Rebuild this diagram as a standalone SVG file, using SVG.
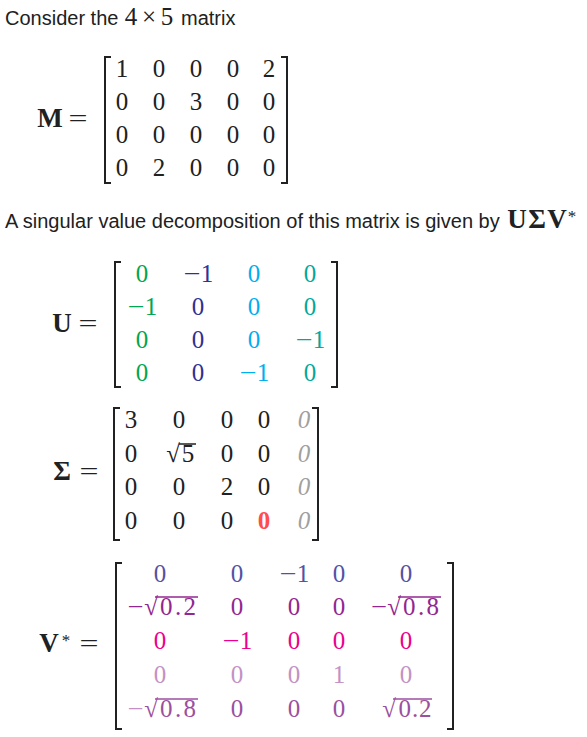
<svg xmlns="http://www.w3.org/2000/svg" width="587" height="737" viewBox="0 0 587 737">
<style>
.t{font-family:'Liberation Sans',Arial,sans-serif;font-size:20px;fill:#202122}
.m{font-family:'Liberation Serif','Times New Roman',serif;font-size:25px;fill:#202122;text-anchor:middle}
.b{font-weight:bold;font-size:27px}
.s{font-size:17px}
.br{fill:none;stroke:#202122;stroke-width:2}
.g{fill:#00a651}.n{fill:#2e3192}.c{fill:#00aeef}.tl{fill:#00a99d}
.r1{fill:#5451a4}.r2{fill:#92278f}.r3{fill:#ec008c}.r4{fill:#c391c4}.r5{fill:#9b509e}
.gr{fill:#a0a0a0;font-style:italic}.red{fill:#ff4d4d;font-weight:bold}
.bar2{stroke:#92278f;stroke-width:1.5}.bar5{stroke:#9b509e;stroke-width:1.5}.barb{stroke:#202122;stroke-width:1.5}
</style>
<rect width="587" height="737" fill="#ffffff"/>
<g id="intro">
<text class="t" x="5" y="25">Consider the</text>
<text class="m" x="131" y="25">4</text>
<text class="m" x="149" y="25">×</text>
<text class="m" x="167" y="25">5</text>
<text class="t" x="181" y="25">matrix</text>
</g>
<g id="matrix-M">
<text class="m b" x="50" y="127">M</text>
<text class="m" x="78" y="127" textLength="19" lengthAdjust="spacingAndGlyphs">=</text>
<path class="br" d="M111,57H105V183H111M281,57H287V183H281"/>
<g class="m">
<text x="122" y="77">1</text><text x="159" y="77">0</text><text x="196" y="77">0</text><text x="233" y="77">0</text><text x="269" y="77">2</text>
<text x="122" y="110">0</text><text x="159" y="110">0</text><text x="196" y="110">3</text><text x="233" y="110">0</text><text x="269" y="110">0</text>
<text x="122" y="143">0</text><text x="159" y="143">0</text><text x="196" y="143">0</text><text x="233" y="143">0</text><text x="269" y="143">0</text>
<text x="122" y="176">0</text><text x="159" y="176">2</text><text x="196" y="176">0</text><text x="233" y="176">0</text><text x="269" y="176">0</text>
</g>
</g>
<g id="svd-text">
<text class="t" x="5" y="228">A singular value decomposition of this matrix is given by</text>
<text class="m b" x="517" y="228">U</text>
<text class="m b" x="537" y="228">Σ</text>
<text class="m b" x="557" y="228">V</text>
<text class="m s" x="572" y="222">*</text>
</g>
<g id="matrix-U">
<text class="m b" x="62" y="332">U</text>
<text class="m" x="88" y="332" textLength="19" lengthAdjust="spacingAndGlyphs">=</text>
<path class="br" d="M121,262H115V387H121M331,262H337V387H331"/>
<text class="m g" x="142" y="282">0</text>
<text class="m n" x="192" y="282" textLength="17" lengthAdjust="spacingAndGlyphs">−</text><text class="m n" x="207" y="282">1</text>
<text class="m c" x="254" y="282">0</text>
<text class="m tl" x="310" y="282">0</text>
<text class="m g" x="136" y="315" textLength="17" lengthAdjust="spacingAndGlyphs">−</text><text class="m g" x="151" y="315">1</text>
<text class="m n" x="198" y="315">0</text>
<text class="m c" x="254" y="315">0</text>
<text class="m tl" x="310" y="315">0</text>
<text class="m g" x="142" y="348">0</text>
<text class="m n" x="198" y="348">0</text>
<text class="m c" x="254" y="348">0</text>
<text class="m tl" x="304" y="348" textLength="17" lengthAdjust="spacingAndGlyphs">−</text><text class="m tl" x="319" y="348">1</text>
<text class="m g" x="142" y="381">0</text>
<text class="m n" x="198" y="381">0</text>
<text class="m c" x="248" y="381" textLength="17" lengthAdjust="spacingAndGlyphs">−</text><text class="m c" x="263" y="381">1</text>
<text class="m tl" x="310" y="381">0</text>
</g>
<g id="matrix-Sigma">
<text class="m b" x="62" y="480">Σ</text>
<text class="m" x="89" y="480" textLength="19" lengthAdjust="spacingAndGlyphs">=</text>
<path class="br" d="M120,408H114V540H120M312,408H318V540H312"/>
<g class="m">
<text x="131" y="428">3</text><text x="179" y="428">0</text><text x="227" y="428">0</text><text x="264" y="428">0</text>
<text x="131" y="462">0</text><text x="173" y="462">√</text><text x="188" y="462">5</text><text x="227" y="462">0</text><text x="264" y="462">0</text>
<text x="131" y="495">0</text><text x="179" y="495">0</text><text x="227" y="495">2</text><text x="264" y="495">0</text>
<text x="131" y="529">0</text><text x="179" y="529">0</text><text x="227" y="529">0</text>
</g>
<line class="barb" x1="179" y1="444" x2="196" y2="444"/>
<text class="m red" x="264" y="529">0</text>
<text class="m gr" x="304" y="428">0</text>
<text class="m gr" x="304" y="462">0</text>
<text class="m gr" x="304" y="495">0</text>
<text class="m gr" x="304" y="529">0</text>
</g>
<g id="matrix-V">
<text class="m b" x="49" y="652">V</text>
<text class="m s" x="66" y="646">*</text>
<text class="m" x="89" y="652" textLength="19" lengthAdjust="spacingAndGlyphs">=</text>
<path class="br" d="M122,563H116V729H122M447,563H453V729H447"/>
<g class="m r1">
<text x="160" y="582">0</text><text x="237" y="582">0</text>
<text x="288" y="582" textLength="17" lengthAdjust="spacingAndGlyphs">−</text><text x="303" y="582">1</text>
<text x="339" y="582">0</text><text x="406" y="582">0</text>
</g>
<g class="m r2">
<text x="135.5" y="615" textLength="16" lengthAdjust="spacingAndGlyphs">−</text><text x="151" y="615">√</text><text x="178" y="615" textLength="36" lengthAdjust="spacing">0.2</text>
<text x="237" y="615">0</text><text x="294" y="615">0</text><text x="339" y="615">0</text>
<text x="379" y="615" textLength="16" lengthAdjust="spacingAndGlyphs">−</text><text x="394" y="615">√</text><text x="421" y="615" textLength="36" lengthAdjust="spacing">0.8</text>
</g>
<line class="bar2" x1="155" y1="597" x2="198" y2="597"/>
<line class="bar2" x1="398" y1="597" x2="441" y2="597"/>
<g class="m r3">
<text x="160" y="649">0</text>
<text x="231" y="649" textLength="17" lengthAdjust="spacingAndGlyphs">−</text><text x="246" y="649">1</text>
<text x="294" y="649">0</text><text x="339" y="649">0</text><text x="406" y="649">0</text>
</g>
<g class="m r4">
<text x="160" y="683">0</text><text x="237" y="683">0</text><text x="294" y="683">0</text><text x="339" y="683">1</text><text x="406" y="683">0</text>
</g>
<text class="m r4" x="135.5" y="717" textLength="16" lengthAdjust="spacingAndGlyphs">−</text>
<g class="m r5">
<text x="151" y="717">√</text><text x="178" y="717" textLength="36" lengthAdjust="spacing">0.8</text>
<text x="237" y="717">0</text><text x="294" y="717">0</text><text x="339" y="717">0</text>
<text x="389" y="717">√</text><text x="415" y="717" textLength="33" lengthAdjust="spacing">0.2</text>
</g>
<line class="bar5" x1="155" y1="699" x2="198" y2="699"/>
<line class="bar5" x1="393" y1="699" x2="432" y2="699"/>
</g>
</svg>
